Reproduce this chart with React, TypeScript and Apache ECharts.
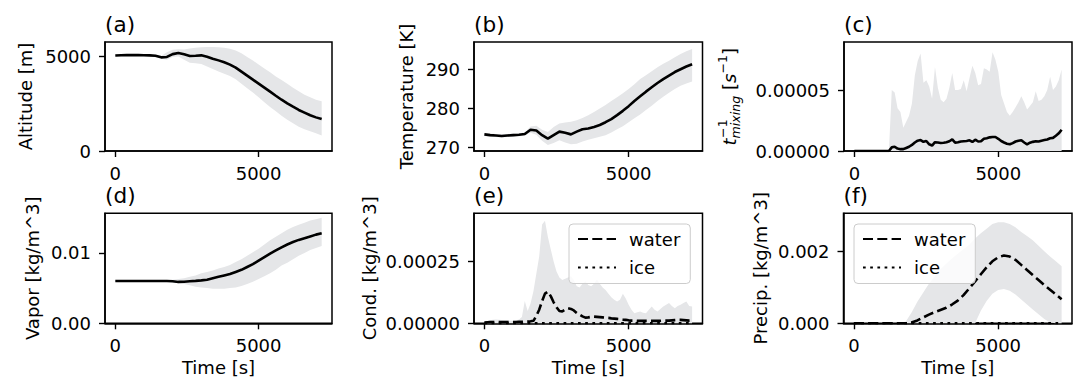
import React, { useEffect, useRef } from 'react';
import * as echarts from 'echarts';

// ---------- data ----------
const T200 = [0, 200, 400, 600, 800, 1000, 1200, 1400, 1600, 1800, 2000, 2200, 2400, 2600, 2800, 3000, 3200, 3400, 3600, 3800, 4000, 4200, 4400, 4600, 4800, 5000, 5200, 5400, 5600, 5800, 6000, 6200, 6400, 6600, 6800, 7000, 7200];
const T100 = [0, 100, 200, 300, 400, 500, 600, 700, 800, 900, 1000, 1100, 1200, 1300, 1400, 1500, 1600, 1700, 1800, 1900, 2000, 2100, 2200, 2300, 2400, 2500, 2600, 2700, 2800, 2900, 3000, 3100, 3200, 3300, 3400, 3500, 3600, 3700, 3800, 3900, 4000, 4100, 4200, 4300, 4400, 4500, 4600, 4700, 4800, 4900, 5000, 5100, 5200, 5300, 5400, 5500, 5600, 5700, 5800, 5900, 6000, 6100, 6200, 6300, 6400, 6500, 6600, 6700, 6800, 6900, 7000, 7100, 7200];

// (a) Altitude [m]
const ALT_MEAN = [5030, 5040, 5045, 5045, 5045, 5040, 5035, 5010, 4930, 4950, 5100, 5160, 5090, 5000, 5015, 5035, 4965, 4860, 4770, 4670, 4545, 4385, 4175, 3965, 3755, 3545, 3335, 3125, 2910, 2700, 2510, 2330, 2160, 2020, 1880, 1770, 1680];
const ALT_UP = [5080, 5090, 5095, 5095, 5095, 5090, 5085, 5060, 5000, 5200, 5330, 5360, 5340, 5400, 5440, 5460, 5470, 5470, 5460, 5430, 5380, 5290, 5140, 4950, 4760, 4550, 4340, 4140, 3920, 3740, 3540, 3330, 3150, 2960, 2830, 2700, 2620];
const ALT_LO = [4980, 4990, 4995, 4995, 4995, 4990, 4985, 4960, 4860, 4800, 4950, 4980, 4800, 4650, 4620, 4580, 4450, 4320, 4180, 4070, 3950, 3770, 3540, 3300, 3080, 2830, 2560, 2320, 2090, 1860, 1650, 1460, 1280, 1150, 1040, 930, 820];

// (b) Temperature [K]
const TEMP_MEAN = [273.4, 273.2, 273.1, 273.0, 273.1, 273.2, 273.3, 273.5, 274.6, 274.4, 273.2, 272.3, 273.2, 274.1, 273.8, 273.4, 274.1, 274.7, 274.9, 275.3, 275.8, 276.5, 277.3, 278.3, 279.4, 280.6, 281.9, 283.1, 284.3, 285.4, 286.5, 287.5, 288.4, 289.3, 290.0, 290.7, 291.3];
const TEMP_UP = [273.8, 273.6, 273.5, 273.4, 273.5, 273.6, 273.7, 273.9, 275.4, 275.6, 274.6, 274.0, 275.3, 276.2, 276.4, 276.6, 277.0, 277.6, 278.3, 279.1, 280.0, 280.9, 281.9, 282.9, 283.9, 285.0, 286.2, 287.5, 288.5, 289.5, 290.5, 291.4, 292.2, 293.1, 293.9, 294.6, 295.2];
const TEMP_LO = [273.0, 272.8, 272.7, 272.6, 272.7, 272.8, 272.9, 273.1, 273.8, 273.3, 271.8, 270.7, 271.2, 271.9, 271.3, 270.9, 271.0, 271.6, 272.0, 272.4, 272.8, 273.2, 273.9, 274.7, 275.5, 276.5, 277.5, 278.5, 279.6, 280.7, 281.9, 283.0, 284.0, 285.0, 285.8, 286.4, 286.9];

// (c) inverse mixing time [1/s]
const MIX_MEAN = [0, 0, 0, 0, 0, 0, 0, 0, 0, 0, 0, 0, 0,
  0.3e-5, 0.35e-5, 0.2e-5, 0.15e-5, 0.15e-5, 0.25e-5, 0.35e-5, 0.5e-5, 0.7e-5, 0.85e-5, 0.9e-5, 0.75e-5, 0.82e-5, 0.55e-5, 0.45e-5, 0.72e-5, 0.7e-5, 0.66e-5, 0.68e-5, 0.72e-5, 0.8e-5, 0.95e-5, 0.68e-5, 0.72e-5, 0.78e-5, 0.8e-5, 0.82e-5, 0.88e-5, 0.74e-5, 0.93e-5, 0.78e-5, 0.8e-5, 1.0e-5, 1.05e-5, 1.12e-5, 1.15e-5, 1.15e-5, 1.0e-5, 0.82e-5, 0.7e-5, 0.6e-5, 0.55e-5, 0.65e-5, 0.78e-5, 0.84e-5, 0.88e-5, 0.7e-5, 0.55e-5, 0.68e-5, 0.75e-5, 0.8e-5, 0.78e-5, 0.85e-5, 0.9e-5, 0.95e-5, 1.05e-5, 1.08e-5, 1.25e-5, 1.45e-5, 1.75e-5];
const MIX_UP = [0, 0, 0, 0, 0, 0, 0, 0, 0, 0, 0, 0, 0,
  5.0e-5, 4.8e-5, 3.5e-5, 3.2e-5, 1.9e-5, 2.4e-5, 2.9e-5, 3.9e-5, 6.2e-5, 7.4e-5, 8.0e-5, 5.6e-5, 5.8e-5, 5.3e-5, 4.3e-5, 6.9e-5, 5.2e-5, 4.2e-5, 4.0e-5, 4.3e-5, 5.2e-5, 6.4e-5, 5.0e-5, 5.0e-5, 5.1e-5, 5.8e-5, 4.9e-5, 6.0e-5, 7.0e-5, 6.4e-5, 5.4e-5, 5.5e-5, 6.8e-5, 6.7e-5, 6.5e-5, 8.1e-5, 7.5e-5, 6.5e-5, 4.6e-5, 3.9e-5, 3.2e-5, 2.9e-5, 3.2e-5, 3.6e-5, 4.0e-5, 4.5e-5, 4.0e-5, 3.4e-5, 3.7e-5, 4.0e-5, 4.9e-5, 4.1e-5, 4.2e-5, 4.5e-5, 5.0e-5, 6.1e-5, 5.0e-5, 5.3e-5, 5.8e-5, 6.7e-5];

// (d) Vapor [kg/m^3]
const VAP_MEAN = [0.0060, 0.0060, 0.0060, 0.0060, 0.0060, 0.0060, 0.0060, 0.0060, 0.0060, 0.0060, 0.00597, 0.00588, 0.0059, 0.00597, 0.00603, 0.0061, 0.0062, 0.0064, 0.0066, 0.0068, 0.0070, 0.0073, 0.0076, 0.0080, 0.0084, 0.0089, 0.0094, 0.0099, 0.01035, 0.0108, 0.0112, 0.01155, 0.01185, 0.0121, 0.01235, 0.0126, 0.0128];
const VAP_UP = [0.0061, 0.0061, 0.0061, 0.0061, 0.0061, 0.0061, 0.0061, 0.0061, 0.0061, 0.0061, 0.0062, 0.0063, 0.0064, 0.0066, 0.0068, 0.0071, 0.0073, 0.0075, 0.0078, 0.0080, 0.0083, 0.0087, 0.0091, 0.0096, 0.0101, 0.0106, 0.0112, 0.0118, 0.0123, 0.0128, 0.0133, 0.0137, 0.0140, 0.0143, 0.0146, 0.0148, 0.0150];
const VAP_LO = [0.0059, 0.0059, 0.0059, 0.0059, 0.0059, 0.0059, 0.0059, 0.0059, 0.0059, 0.0059, 0.0058, 0.0057, 0.0056, 0.0054, 0.0052, 0.0051, 0.0050, 0.0049, 0.0049, 0.0049, 0.0050, 0.0051, 0.0053, 0.0056, 0.0059, 0.0063, 0.0067, 0.0071, 0.0076, 0.0082, 0.0086, 0.0091, 0.0096, 0.0100, 0.0104, 0.0107, 0.0110];

// (e) Condensate [kg/m^3]
const COND_WATER = [0.3e-5, 0.4e-5, 0.5e-5, 0.5e-5, 0.5e-5, 0.5e-5, 0.5e-5, 0.5e-5, 0.5e-5, 0.5e-5, 0.5e-5, 0.5e-5, 0.6e-5, 0.6e-5, 0.6e-5, 0.7e-5, 0.8e-5, 1.0e-5, 3.0e-5, 5.5e-5, 9.0e-5, 12.0e-5, 12.8e-5, 11.0e-5, 8.5e-5, 6.5e-5, 5.0e-5, 4.8e-5, 5.5e-5, 6.1e-5, 5.8e-5, 5.2e-5, 4.2e-5, 3.5e-5, 2.8e-5, 2.3e-5, 2.4e-5, 2.6e-5, 2.7e-5, 2.6e-5, 2.5e-5, 2.4e-5, 2.3e-5, 2.2e-5, 2.0e-5, 1.9e-5, 1.8e-5, 1.7e-5, 1.5e-5, 1.4e-5, 1.2e-5, 1.1e-5, 1.1e-5, 1.0e-5, 1.0e-5, 1.0e-5, 1.0e-5, 1.0e-5, 1.0e-5, 1.0e-5, 1.0e-5, 1.0e-5, 1.1e-5, 1.1e-5, 1.1e-5, 1.2e-5, 1.3e-5, 1.4e-5, 1.4e-5, 1.3e-5, 1.2e-5, 1.1e-5, 1.1e-5];
const COND_UP = [0.5e-5, 0.8e-5, 1.2e-5, 1.4e-5, 1.5e-5, 1.4e-5, 1.3e-5, 1.2e-5, 1.2e-5, 1.0e-5, 1.0e-5, 1.2e-5, 1.5e-5, 2.5e-5, 9.0e-5, 5.0e-5, 8.0e-5, 13.0e-5, 20.0e-5, 27.0e-5, 40.0e-5, 41.5e-5, 35.0e-5, 30.0e-5, 25.0e-5, 21.0e-5, 18.5e-5, 17.5e-5, 18.0e-5, 18.5e-5, 19.0e-5, 17.5e-5, 15.0e-5, 14.5e-5, 16.0e-5, 17.0e-5, 15.5e-5, 15.0e-5, 16.0e-5, 17.7e-5, 16.0e-5, 14.5e-5, 13.5e-5, 12.0e-5, 10.5e-5, 9.5e-5, 8.8e-5, 9.5e-5, 12.0e-5, 10.0e-5, 7.5e-5, 5.5e-5, 4.1e-5, 4.5e-5, 4.8e-5, 4.3e-5, 4.1e-5, 5.5e-5, 6.8e-5, 5.5e-5, 4.8e-5, 5.8e-5, 6.8e-5, 7.5e-5, 8.2e-5, 7.0e-5, 6.1e-5, 7.0e-5, 7.5e-5, 8.2e-5, 8.8e-5, 7.0e-5, 6.8e-5];
const COND_ICE = [0, 0, 0, 0, 0, 0, 0, 0, 0, 0, 0, 0, 0, 0, 0, 0, 0, 0, 0, 0, 0, 0, 0, 0, 0, 0, 0, 0, 0, 0, 0, 0, 0, 0, 0, 0, 0, 0, 0, 0, 0, 0, 0, 0, 0, 0, 0, 0, 0, 0, 0, 0, 0, 0, 0, 0, 0, 0, 0, 0, 0, 0, 0, 0, 0, 0, 0, 0, 0, 0, 0, 0, 0];

// (f) Precipitation [kg/m^3]
const PREC_WATER = [0, 0, 0, 0, 0, 0, 0, 0, 0, 0, 0.02e-3, 0.08e-3, 0.16e-3, 0.24e-3, 0.31e-3, 0.37e-3, 0.43e-3, 0.52e-3, 0.63e-3, 0.78e-3, 0.97e-3, 1.16e-3, 1.36e-3, 1.55e-3, 1.72e-3, 1.83e-3, 1.88e-3, 1.85e-3, 1.76e-3, 1.62e-3, 1.48e-3, 1.34e-3, 1.20e-3, 1.06e-3, 0.93e-3, 0.80e-3, 0.67e-3];
const PREC_UP = [0, 0, 0, 0, 0, 0, 0, 0, 0, 0.05e-3, 0.3e-3, 0.6e-3, 0.85e-3, 1.1e-3, 1.3e-3, 1.5e-3, 1.65e-3, 1.8e-3, 1.93e-3, 2.05e-3, 2.18e-3, 2.35e-3, 2.5e-3, 2.62e-3, 2.75e-3, 2.8e-3, 2.8e-3, 2.75e-3, 2.66e-3, 2.53e-3, 2.42e-3, 2.3e-3, 2.15e-3, 2.0e-3, 1.85e-3, 1.72e-3, 1.58e-3];
const PREC_LO = [0, 0, 0, 0, 0, 0, 0, 0, 0, 0, 0, 0, 0, 0, 0, 0, 0, 0, 0, 0, 0, 0, 0.35e-3, 0.62e-3, 0.82e-3, 0.92e-3, 0.95e-3, 0.9e-3, 0.8e-3, 0.66e-3, 0.52e-3, 0.38e-3, 0.25e-3, 0.12e-3, 0.02e-3, 0, 0];
const PREC_ICE = [0, 0, 0, 0, 0, 0, 0, 0, 0, 0, 0, 0, 0, 0, 0, 0, 0, 0, 0, 0, 0, 0, 0, 0, 0, 0, 0, 0, 0, 0, 0, 0, 0, 0, 0, 0, 0];

// tick positions & labels
const X_TICKS = [0, 5000];
const PANEL_TITLES = ['(a)', '(b)', '(c)', '(d)', '(e)', '(f)'];
const Y_NAMES = ['Altitude [m]', 'Temperature [K]', '', 'Vapor [kg/m^3]', 'Cond. [kg/m^3]', 'Precip. [kg/m^3]'];
const Y_TICKS = [[0, 5000], [270, 280, 290], [0, 0.00005], [0, 0.01], [0, 0.00025], [0, 0.002]];
const Y_DECIMALS = [0, 0, 5, 2, 5, 3];
const Y_RANGES = [[0, 5737], [269.16, 296.96], [0, 8.95e-5], [0, 0.01563], [0, 0.000445], [0, 0.00305]];
const X_NAME = 'Time [s]';
const LEGEND_NAMES = ['water', 'ice'];

// ---------- layout ----------
const FONT = 'DejaVu Sans';
const BAND = '#e5e6e8';
const GRIDS = [
  { left: 105, top: 42, width: 227, height: 109 },
  { left: 474, top: 42, width: 228.5, height: 109 },
  { left: 844, top: 42, width: 228, height: 109 },
  { left: 105, top: 213.3, width: 227, height: 110 },
  { left: 474, top: 213.3, width: 228.5, height: 110 },
  { left: 843.5, top: 213.3, width: 228.5, height: 110 },
];
const Y_NAME_GAPS = [71, 59, 0, 64, 96, 74];

const pairs = (t: number[], v: number[]) => t.map((x, i) => [x, v[i]]);

function bandSeries(idx: number, t: number[], lo: number[], hi: number[]) {
  return {
    type: 'custom', name: 'band' + idx, coordinateSystem: 'cartesian2d', xAxisIndex: idx, yAxisIndex: idx,
    data: t.map((x, i) => [x, lo[i], hi[i]]),
    encode: { x: 0, y: [1, 2] },
    silent: true, z: 1,
    renderItem: (params: any, api: any) => {
      if (params.dataIndex !== 0) return null;
      const top = t.map((x, i) => api.coord([x, hi[i]]));
      const bot = t.map((x, i) => api.coord([x, lo[i]])).reverse();
      return { type: 'polygon', shape: { points: top.concat(bot) }, style: { fill: BAND, stroke: 'none' }, silent: true };
    },
  };
}
function areaSeries(idx: number, t: number[], hi: number[]) {
  return { type: 'line', name: 'band' + idx, xAxisIndex: idx, yAxisIndex: idx, data: pairs(t, hi), symbol: 'none', lineStyle: { opacity: 0 }, areaStyle: { color: BAND, opacity: 1 }, silent: true, z: 1 };
}
function meanSeries(idx: number, t: number[], v: number[]) {
  return { type: 'line', name: 'mean' + idx, xAxisIndex: idx, yAxisIndex: idx, data: pairs(t, v), symbol: 'none', lineStyle: { color: '#000', width: 2.6 }, z: 3 };
}
function waterSeries(idx: number, t: number[], v: number[]) {
  return { type: 'line', name: 'water', xAxisIndex: idx, yAxisIndex: idx, data: pairs(t, v), symbol: 'none', lineStyle: { color: '#000', width: 2.6, type: [10, 4.3] }, itemStyle: { color: '#000' }, z: 3 };
}
function iceSeries(idx: number, t: number[], v: number[]) {
  return { type: 'line', name: 'ice', xAxisIndex: idx, yAxisIndex: idx, data: pairs(t, v), symbol: 'none', lineStyle: { color: '#000', width: 2.6, type: [2.7, 4.5] }, itemStyle: { color: '#000' }, z: 3 };
}

const txt = { fontFamily: FONT, fontSize: 18, color: '#000' };

function buildOption() {
  const grid = GRIDS.map((g) => ({ ...g, show: true, borderColor: '#000', borderWidth: 1.5, backgroundColor: 'transparent', containLabel: false }));
  const xAxis = GRIDS.map((_, i) => ({
    type: 'value', gridIndex: i, min: -360, max: 7560,
    axisLine: { show: true, onZero: false, lineStyle: { color: '#000', width: 1.5 } },
    axisTick: { show: true, inside: false, length: 6, lineStyle: { color: '#000', width: 1.4 }, customValues: X_TICKS },
    axisLabel: { ...txt, margin: 13, customValues: X_TICKS, formatter: (v: number) => String(v) },
    splitLine: { show: false },
    name: i >= 3 ? X_NAME : '', nameLocation: 'middle', nameGap: 35, nameTextStyle: { ...txt },
  }));
  const yAxis = GRIDS.map((_, i) => ({
    type: 'value', gridIndex: i, min: Y_RANGES[i][0], max: Y_RANGES[i][1],
    axisLine: { show: true, onZero: false, lineStyle: { color: '#000', width: 1.5 } },
    axisTick: { show: true, inside: false, length: 6, lineStyle: { color: '#000', width: 1.4 }, customValues: Y_TICKS[i] },
    axisLabel: { ...txt, margin: 14, customValues: Y_TICKS[i], formatter: (v: number) => v.toFixed(Y_DECIMALS[i]) },
    splitLine: { show: false },
    name: Y_NAMES[i], nameLocation: 'middle', nameGap: Y_NAME_GAPS[i], nameRotate: 90, nameTextStyle: { ...txt },
  }));
  const title = PANEL_TITLES.map((t, i) => ({
    text: t, left: GRIDS[i].left, top: i < 3 ? 13 : 184, padding: 0,
    textStyle: { fontFamily: FONT, fontSize: 21.6, fontWeight: 'normal', color: '#000' },
  }));
  const legendBase = {
    data: LEGEND_NAMES, orient: 'vertical', itemWidth: 38, itemHeight: 14, itemGap: 10.5,
    padding: [6, 10, 7, 8], backgroundColor: 'rgba(255,255,255,0.8)', borderColor: '#cccccc', borderWidth: 1, borderRadius: 4,
    itemStyle: { opacity: 0 },
    textStyle: { ...txt, padding: [0, 0, 0, 8] }, selectedMode: false, z: 10,
  };
  const legend = [
    { ...legendBase, left: 569, top: 224 },
    { ...legendBase, left: 854, top: 224 },
  ];
  const series = [
    bandSeries(0, T200, ALT_LO, ALT_UP), meanSeries(0, T200, ALT_MEAN),
    bandSeries(1, T200, TEMP_LO, TEMP_UP), meanSeries(1, T200, TEMP_MEAN),
    areaSeries(2, T100, MIX_UP), meanSeries(2, T100, MIX_MEAN),
    bandSeries(3, T200, VAP_LO, VAP_UP), meanSeries(3, T200, VAP_MEAN),
    areaSeries(4, T100, COND_UP),
    waterSeries(4, T100, COND_WATER), iceSeries(4, T100, COND_ICE),
    bandSeries(5, T200, PREC_LO, PREC_UP),
    waterSeries(5, T200, PREC_WATER), iceSeries(5, T200, PREC_ICE),
  ];
  const it = 'italic 18px "DejaVu Sans"';
  const up = '18px "DejaVu Sans"';
  const sm = '12.6px "DejaVu Sans"';
  const smi = 'italic 12.6px "DejaVu Sans"';
  const piece = (text: string, x: number, y: number, font: string) => ({
    type: 'text', x, y, style: { text, font, fill: '#000', textAlign: 'left', textVerticalAlign: 'middle' },
  });
  const x0 = -49;
  const graphic = [{
    type: 'group', x: 729, y: 96.5, rotation: Math.PI / 2,
    children: [
      piece('t', x0, 0, it),
      piece('\u22121', x0 + 7.6, -7, sm),
      piece('mixing', x0 + 7.1, 6, smi),
      piece('[', x0 + 55.5, 0, up),
      piece('s', x0 + 62.5, 0, it),
      piece('\u22121', x0 + 72, -7, sm),
      piece(']', x0 + 90.6, 0, up),
    ],
  }];
  return { animation: false, backgroundColor: '#fff', textStyle: { fontFamily: FONT }, grid, xAxis, yAxis, title, legend, series, graphic };
}

export default function App() {
  const ref = useRef<HTMLDivElement>(null);
  useEffect(() => {
    if (!ref.current) return;
    const chart = echarts.init(ref.current, undefined, { renderer: 'svg' });
    chart.setOption(buildOption() as any);
    return () => chart.dispose();
  }, []);
  return <div ref={ref} style={{ position: 'absolute', left: 0, top: 0, width: 1079, height: 379 }} />;
}
